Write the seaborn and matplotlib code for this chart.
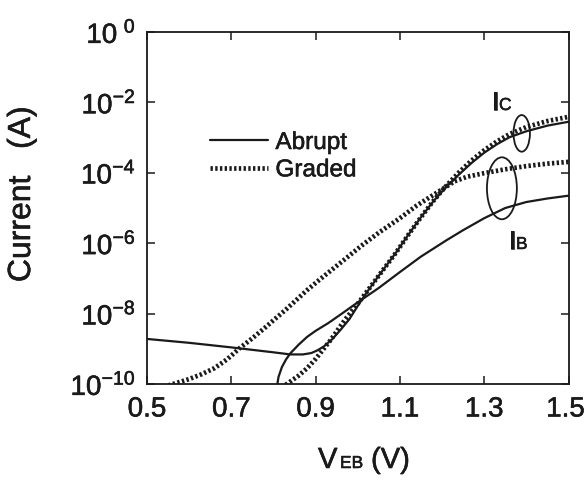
# Curvas I-V de un HBT: emisor abrupto vs graduado
# corrientes de colector (IC) y base (IB) en escala log

import numpy as np
import matplotlib
matplotlib.use("Agg")
import matplotlib.pyplot as plt
import matplotlib.patheffects as pe
import matplotlib.transforms as mtransforms
from matplotlib.patches import Ellipse
import seaborn as sns

# Seccion 1: datos (voltaje y log10 de la corriente)

v_ic_abrupt = [0.50, 0.60, 0.70, 0.80, 0.84, 0.87, 0.89, 0.905, 0.92, 0.94,
               0.96, 0.98, 1.00, 1.02, 1.05, 1.09, 1.12, 1.15, 1.18, 1.21,
               1.24, 1.27, 1.30, 1.33, 1.36, 1.40, 1.45, 1.50]
log_ic_abrupt = [-8.72, -8.83, -8.96, -9.10, -9.16, -9.16, -9.12, -9.04, -8.93, -8.72,
                 -8.45, -8.16, -7.78, -7.42, -6.92, -6.28, -5.76, -5.26, -4.80, -4.40,
                 -4.05, -3.72, -3.43, -3.19, -2.99, -2.82, -2.66, -2.55]

v_ic_graded = [0.82, 0.84, 0.86, 0.88, 0.90, 0.935, 0.97, 1.00, 1.05, 1.09,
               1.12, 1.15, 1.18, 1.21, 1.24, 1.27, 1.30, 1.33, 1.36, 1.40,
               1.45, 1.50]
log_ic_graded = [-10.1, -9.93, -9.76, -9.55, -9.29, -8.76, -8.17, -7.72, -6.92, -6.28,
                 -5.76, -5.26, -4.79, -4.37, -3.99, -3.65, -3.36, -3.11, -2.90, -2.70,
                 -2.53, -2.41]

v_ib_abrupt = [0.808, 0.812, 0.82, 0.83, 0.84, 0.86, 0.88, 0.90, 0.93, 0.96,
               1.00, 1.05, 1.10, 1.15, 1.21, 1.25, 1.30, 1.35, 1.40, 1.45, 1.50]
log_ib_abrupt = [-10.1, -9.8, -9.52, -9.3, -9.13, -8.88, -8.66, -8.49, -8.27, -8.02,
                 -7.68, -7.27, -6.82, -6.38, -5.92, -5.63, -5.29, -5.00, -4.83, -4.73, -4.65]

v_ib_graded = [0.54, 0.57, 0.60, 0.63, 0.66, 0.69, 0.72, 0.75, 0.78, 0.80,
               0.83, 0.86, 0.88, 0.91, 0.94, 0.97, 1.01, 1.05, 1.10, 1.14,
               1.17, 1.20, 1.23, 1.26, 1.30, 1.35, 1.40, 1.45, 1.50]
log_ib_graded = [-10.08, -9.97, -9.86, -9.72, -9.55, -9.30, -8.98, -8.70, -8.40, -8.19,
                 -7.88, -7.55, -7.33, -7.03, -6.74, -6.45, -6.06, -5.70, -5.29, -4.93,
                 -4.70, -4.47, -4.24, -4.11, -4.01, -3.90, -3.81, -3.74, -3.69]

x_ticks = [0.5, 0.7, 0.9, 1.1, 1.3, 1.5]
x_tick_labels = ["0.5", "0.7", "0.9", "1.1", "1.3", "1.5"]
y_exps = [0, -2, -4, -6, -8, -10]
y_tick_labels = [r"$10^{\ 0}$", r"$10^{-2}$", r"$10^{-4}$",
                 r"$10^{-6}$", r"$10^{-8}$", r"$10^{-10}$"]

# Seccion 2: estilo

sns.set_theme(style="ticks")
plt.rcParams["font.family"] = ["Liberation Sans", "DejaVu Sans"]
plt.rcParams["mathtext.fontset"] = "custom"
plt.rcParams["mathtext.rm"] = "Liberation Sans"
plt.rcParams["mathtext.default"] = "regular"

TINTA = "#1a1a1a"
PUNTEADO = (0, (0.5, 0.5))
# un trazo fino alrededor del texto para que se vea tan grueso como el escaneo
GROSOR = [pe.withStroke(linewidth=0.4, foreground=TINTA)]

W, H = 586, 480


def px(x, y):
    # pixeles de la imagen -> fraccion de figura
    return x / W, 1 - y / H


def texto(x, y, s, tam, **kw):
    fig.text(*px(x, y), s, fontsize=tam, color=TINTA, va="baseline",
             path_effects=GROSOR, **kw)


fig = plt.figure(figsize=(W / 100, H / 100), dpi=100)
ax = fig.add_axes([147 / W, 1 - 384 / H, (568.5 - 147) / W, (384 - 32) / H])

# Seccion 3: curvas

sns.lineplot(x=v_ic_abrupt, y=10 ** np.array(log_ic_abrupt), ax=ax,
             color=TINTA, lw=1.6, label="Abrupt")
sns.lineplot(x=v_ib_abrupt, y=10 ** np.array(log_ib_abrupt), ax=ax,
             color=TINTA, lw=1.6)
sns.lineplot(x=v_ic_graded, y=10 ** np.array(log_ic_graded), ax=ax,
             color=TINTA, lw=3.4, linestyle=PUNTEADO, label="Graded")
sns.lineplot(x=v_ib_graded, y=10 ** np.array(log_ib_graded), ax=ax,
             color=TINTA, lw=3.4, linestyle=PUNTEADO)

ax.set_yscale("log")
ax.set_xlim(0.5, 1.5)
ax.set_ylim(1e-10, 1)

ax.set_xticks(x_ticks)
ax.set_xticklabels(x_tick_labels)
ax.set_yticks([10.0 ** e for e in y_exps])
ax.set_yticklabels(y_tick_labels)
ax.yaxis.set_minor_locator(matplotlib.ticker.NullLocator())
ax.tick_params(axis="both", direction="in", length=6, width=1.1, color=TINTA,
               top=True, right=True, labelsize=20, labelcolor=TINTA)
ax.tick_params(axis="x", pad=9)
ax.tick_params(axis="y", pad=8)
for lado in ax.spines.values():
    lado.set_linewidth(1.3)
    lado.set_color(TINTA)
ax.set_xlabel("")
ax.set_ylabel("")

for etiqueta in ax.get_xticklabels() + ax.get_yticklabels():
    etiqueta.set_path_effects(GROSOR)
# el 1.5 queda pegado al borde, lo recorro un poco a la izquierda
ultima = ax.get_xticklabels()[-1]
ultima.set_transform(ultima.get_transform() +
                     mtransforms.ScaledTranslation(-3 / 100, 0, fig.dpi_scale_trans))

# leyenda sin marco
ley = ax.legend(loc="upper left", bbox_to_anchor=(0.149, 0.716), frameon=False,
                fontsize=17.5, handlelength=2.4, handletextpad=0.3,
                labelspacing=0.22, borderpad=0, borderaxespad=0,
                labelcolor=TINTA)
for t in ley.get_texts():
    t.set_path_effects(GROSOR)

# Seccion 4: etiquetas de ejes y anotaciones

fig.text(*px(22, 194), "Current   (A)", rotation=90, ha="center", va="center",
         fontsize=23, color=TINTA, path_effects=GROSOR)
texto(318, 468, "V", 21)
texto(340, 468, "EB", 12.5)
texto(371, 468, "(V)", 21)

texto(492, 110, "I", 19)
texto(499, 110, "C", 12.5)
texto(509, 249, "I", 19)
texto(516, 249, "B", 12.5)

# elipses que agrupan las curvas
ax.add_patch(Ellipse((0.889, 0.712), 0.039, 0.104, transform=ax.transAxes,
                     fill=False, lw=1.3, color=TINTA))
ax.add_patch(Ellipse((0.842, 0.556), 0.071, 0.176, transform=ax.transAxes,
                     fill=False, lw=1.3, color=TINTA))

fig.savefig("out.png", dpi=100, facecolor="white")
